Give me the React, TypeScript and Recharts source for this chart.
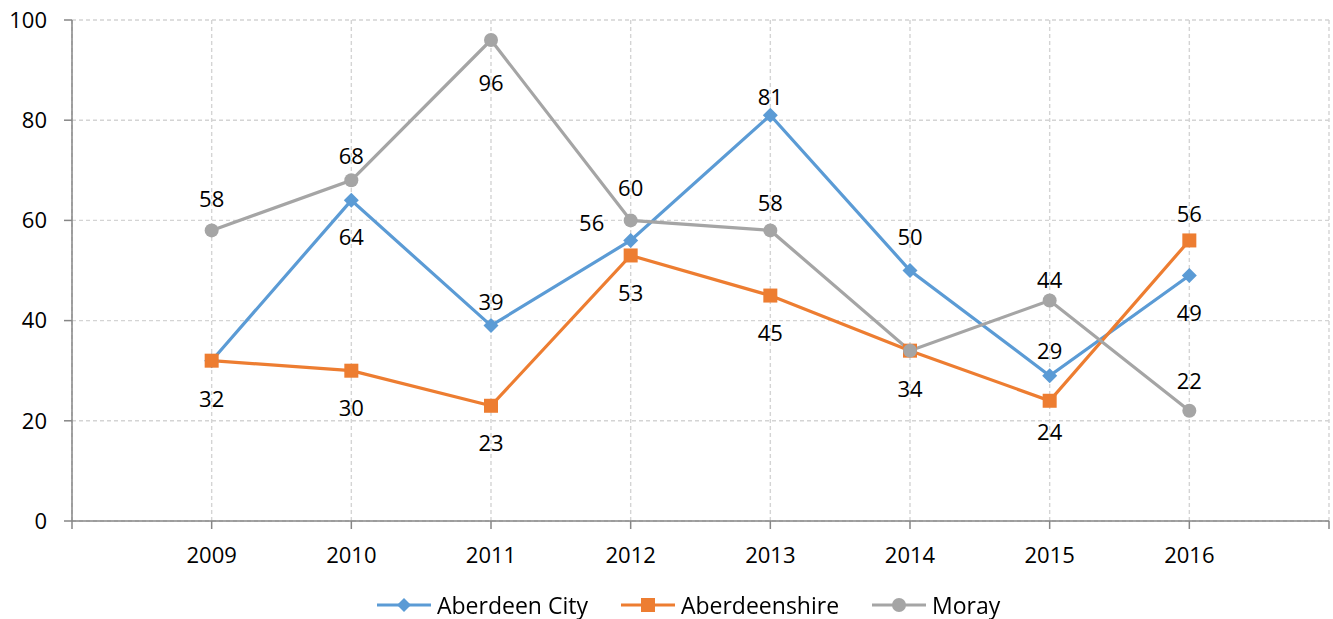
import React from 'react';
import { LineChart, Line, XAxis, YAxis, CartesianGrid, Legend, LabelList } from 'recharts';

const years = [2009, 2010, 2011, 2012, 2013, 2014, 2015, 2016];
const aberdeenCity = [32, 64, 39, 56, 81, 50, 29, 49];
const aberdeenshire = [32, 30, 23, 53, 45, 34, 24, 56];
const moray = [58, 68, 96, 60, 58, 34, 44, 22];
const xTicks = [2008, 2009, 2010, 2011, 2012, 2013, 2014, 2015, 2016, 2017];
const yTicks = [0, 20, 40, 60, 80, 100];

// label offsets (dx, dy) relative to each point; null = label hidden behind an identical one
const cityLabelOffsets = [null, [0, 36], [0, -25], [-39, -18], [0, -19], [0, -35], [0, -26], [0, 36]];
const shireLabelOffsets = [[0, 37], [0, 36], [0, 36], [0, 37], [0, 36], [0, 37], [0, 30], [0, -27]];
const morayLabelOffsets = [[0, -32], [0, -25], [0, 42], [0, -33], [0, -28], null, [0, -22], [0, -31]];

const data = years.map((y, i) => ({
  year: y,
  city: aberdeenCity[i],
  shire: aberdeenshire[i],
  moray: moray[i],
}));

const FONT = '"Open Sans", sans-serif';
const C_CITY = '#5B9BD5';
const C_SHIRE = '#ED7D31';
const C_MORAY = '#A5A5A5';

const diamond = (cx: number, cy: number, fill: string, s = 7) => (
  <path d={`M${cx},${cy - s} L${cx + s},${cy} L${cx},${cy + s} L${cx - s},${cy} Z`} fill={fill} />
);

const makeDot = (kind: string, color: string) => (props: any) => {
  const { cx, cy, index } = props;
  if (cx == null || cy == null) return <g key={`e-${kind}-${index}`} />;
  if (kind === 'diamond') return <g key={`d-${kind}-${index}`}>{diamond(cx, cy, color, 7.5)}</g>;
  if (kind === 'square')
    return <rect key={`d-${kind}-${index}`} x={cx - 7} y={cy - 7} width={14} height={14} fill={color} />;
  return <circle key={`d-${kind}-${index}`} cx={cx} cy={cy} r={7} fill={color} />;
};

const makeLabel = (offsets: (number[] | null)[]) => (props: any) => {
  const { x, y, index, value } = props;
  const o = offsets[index];
  if (!o) return <g key={`l-${index}`} />;
  return (
    <text
      key={`l-${index}`}
      x={x + o[0]}
      y={y + o[1]}
      textAnchor="middle"
      dominantBaseline="central"
      fontFamily={FONT}
      fontSize={22}
      fill="#000"
    >
      {value}
    </text>
  );
};

const legendItems = [
  { name: 'Aberdeen City', color: C_CITY, kind: 'diamond' },
  { name: 'Aberdeenshire', color: C_SHIRE, kind: 'square' },
  { name: 'Moray', color: C_MORAY, kind: 'circle' },
];

const LegendContent = () => (
  <div style={{ height: 28, display: 'flex', alignItems: 'center', paddingLeft: 377, fontFamily: FONT, fontSize: 23, color: '#000' }}>
    {legendItems.map((it, i) => (
      <div key={it.name} style={{ display: 'flex', alignItems: 'center', marginRight: i < 2 ? 33 : 0 }}>
        <svg width={54} height={20} style={{ marginRight: 6 }}>
          <line x1={0} y1={10} x2={54} y2={10} stroke={it.color} strokeWidth={3} />
          {it.kind === 'diamond' && diamond(27, 10, it.color, 7)}
          {it.kind === 'square' && <rect x={20} y={3} width={14} height={14} fill={it.color} />}
          {it.kind === 'circle' && <circle cx={27} cy={10} r={7} fill={it.color} />}
        </svg>
        <span style={{ lineHeight: '28px', whiteSpace: 'nowrap' }}>{it.name}</span>
      </div>
    ))}
  </div>
);

export default function App() {
  return (
    <div style={{ position: 'fixed', left: 0, top: 0, width: 1333, height: 619, background: '#fff' }}>
      <LineChart width={1333} height={619} data={data} margin={{ top: 20, right: 4, left: 0, bottom: 0 }}>
        <CartesianGrid stroke="#d4d4d4" strokeWidth={1.4} strokeDasharray="4 3" />
        <XAxis
          dataKey="year"
          type="number"
          domain={[2008, 2017]}
          ticks={xTicks}
          interval={0}
          tickFormatter={(v: number) => (v === 2008 || v === 2017 ? '' : String(v))}
          height={70}
          tickSize={8}
          tickMargin={18}
          axisLine={{ stroke: '#868686', strokeWidth: 1.5 }}
          tickLine={{ stroke: '#868686', strokeWidth: 1.5 }}
          tick={{ fill: '#000', fontSize: 22, fontFamily: FONT }}
        />
        <YAxis
          domain={[0, 100]}
          ticks={yTicks}
          interval={0}
          width={72}
          tickSize={8}
          tickMargin={17}
          axisLine={{ stroke: '#868686', strokeWidth: 1.5 }}
          tickLine={{ stroke: '#868686', strokeWidth: 1.5 }}
          tick={{ fill: '#000', fontSize: 22, fontFamily: FONT }}
        />
        <Legend verticalAlign="bottom" content={<LegendContent />} wrapperStyle={{ left: 0, width: 1333, height: 28 }} />
        <Line
          name="Aberdeen City"
          dataKey="city"
          stroke={C_CITY}
          strokeWidth={3.2}
          dot={makeDot('diamond', C_CITY)}
          activeDot={false}
          isAnimationActive={false}
        >
          <LabelList dataKey="city" content={makeLabel(cityLabelOffsets)} />
        </Line>
        <Line
          name="Aberdeenshire"
          dataKey="shire"
          stroke={C_SHIRE}
          strokeWidth={3.2}
          dot={makeDot('square', C_SHIRE)}
          activeDot={false}
          isAnimationActive={false}
        >
          <LabelList dataKey="shire" content={makeLabel(shireLabelOffsets)} />
        </Line>
        <Line
          name="Moray"
          dataKey="moray"
          stroke={C_MORAY}
          strokeWidth={3.2}
          dot={makeDot('circle', C_MORAY)}
          activeDot={false}
          isAnimationActive={false}
        >
          <LabelList dataKey="moray" content={makeLabel(morayLabelOffsets)} />
        </Line>
      </LineChart>
    </div>
  );
}
